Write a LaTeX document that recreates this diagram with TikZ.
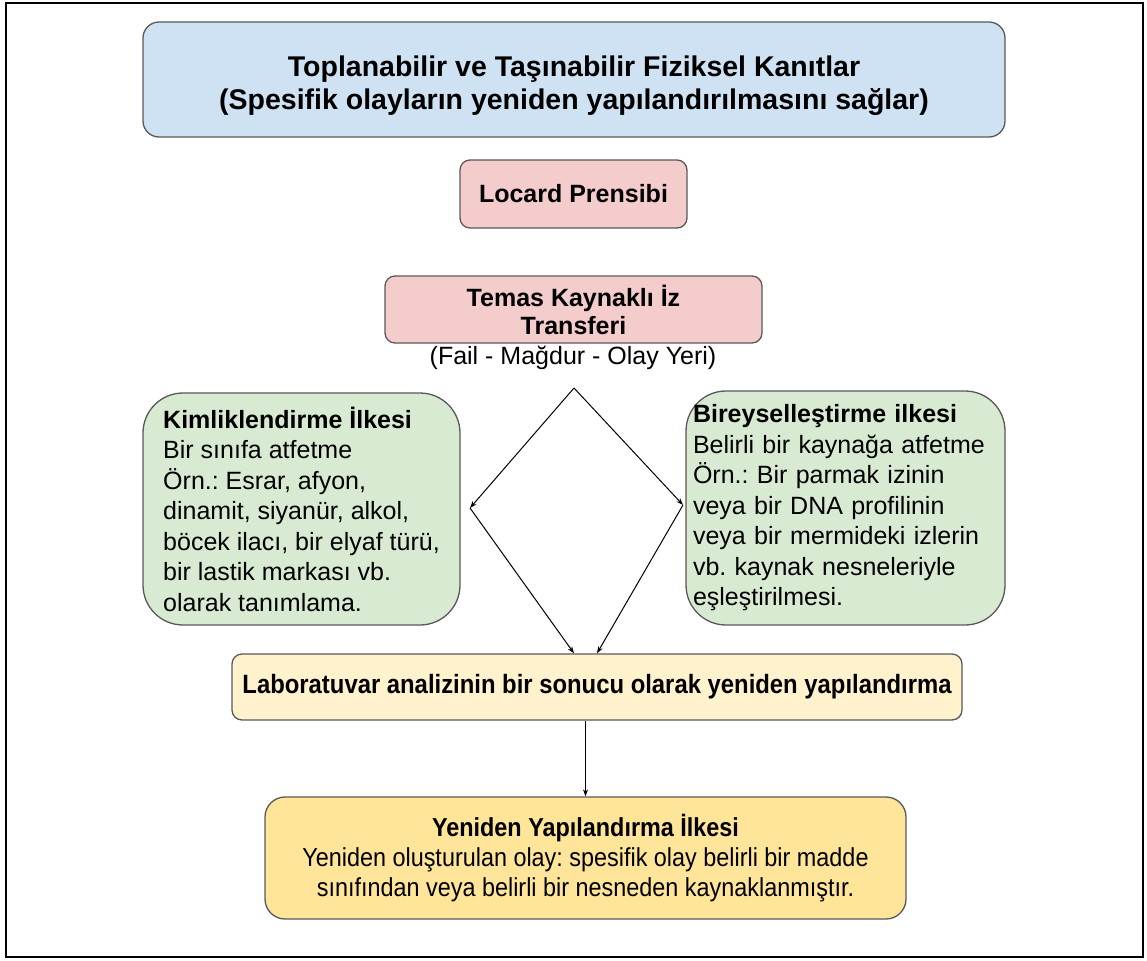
\documentclass[tikz,border=0pt]{standalone}
\usepackage{fontspec}
\setmainfont{Liberation Sans}
\newfontfamily\darfont[FakeStretch=0.9]{Liberation Sans}
\usetikzlibrary{arrows.meta}
\frenchspacing

\definecolor{kenar}{HTML}{595959}
\definecolor{mavi}{HTML}{CFE2F3}
\definecolor{pembe}{HTML}{F4CCCC}
\definecolor{yesil}{HTML}{D9EAD3}
\definecolor{krem}{HTML}{FFF2CC}
\definecolor{sari}{HTML}{FFE599}

\begin{document}
\begin{tikzpicture}[x=1pt,y=-1pt,
    kutu/.style={draw=kenar,line width=1.3pt,rounded corners=10pt,align=center,inner sep=0pt},
    ilke/.style={kutu,fill=yesil,rounded corners=40pt,align=left,minimum height=232pt,
        font=\fontsize{25}{30.5}\selectfont},
    ok/.style={-{Stealth[length=7pt,width=5pt]},line width=1pt}]
    % 边界
    \useasboundingbox (0,0) rectangle (1147,960);
    \draw[line width=2.5pt] (6,3) rectangle (1143,957);

    % 标题框
    \node [kutu,fill=mavi,rounded corners=16pt,minimum width=862pt,minimum height=115pt,
        font=\fontsize{28.5}{33}\selectfont\bfseries] (kanit) at (574,79.5)
        {\rule{0pt}{34pt}Toplanabilir ve Taşınabilir Fiziksel Kanıtlar\\(Spesifik olayların yeniden yapılandırılmasını sağlar)};

    % 罗卡定律
    \node [kutu,fill=pembe,minimum width=227pt,minimum height=68pt,
        font=\fontsize{25}{29}\selectfont\bfseries] (locard) at (573.5,194) {Locard Prensibi};

    % 接触转移
    \node [kutu,fill=pembe,minimum width=377pt,minimum height=67pt,
        font=\fontsize{25}{28}\selectfont\bfseries] (temas) at (573.5,309.5) {Temas Kaynaklı İz\\Transferi};
    \node [font=\fontsize{25}{29}\selectfont,inner sep=0pt] (fail) at (573,358) {(Fail - Mağdur - Olay Yeri)};

    % 两个原则
    \node [ilke,minimum width=317pt] (kimlik) at (301.5,509)
        {\textbf{Kimliklendirme İlkesi}\\Bir sınıfa atfetme\\Örn.: Esrar, afyon,\\dinamit, siyanür, alkol,\\böcek ilacı, bir elyaf türü,\\bir lastik markası vb.\\olarak tanımlama.};
    \node [ilke,inner xsep=7pt,text width=305pt,minimum height=234pt] (birey) at (845.5,508)
        {\textbf{Bireyselleştirme ilkesi}\\Belirli bir kaynağa atfetme\\Örn.: Bir parmak izinin\\veya bir DNA profilinin\\veya bir mermideki izlerin\\vb. kaynak nesneleriyle\\eşleştirilmesi.};

    % 菱形的顶点
    \coordinate (tepe) at (574,388);
    \coordinate (sol) at (470,508);
    \coordinate (sag) at (683,505);

    % 实验室分析
    \node [kutu,fill=krem,minimum width=730pt,minimum height=66pt,
        font=\darfont\fontsize{26.5}{30}\selectfont\bfseries] (lab) at (597,687)
        {Laboratuvar analizinin bir sonucu olarak yeniden yapılandırma};

    % 重建原则
    \node [kutu,fill=sari,rounded corners=20pt,minimum width=641pt,minimum height=122pt,
        font=\darfont\fontsize{26}{30}\selectfont] (yeniden) at (585.5,858)
        {\textbf{Yeniden Yapılandırma İlkesi}\\Yeniden oluşturulan olay: spesifik olay belirli bir madde\\sınıfından veya belirli bir nesneden kaynaklanmıştır.};

    % 箭头
    \draw[ok] (tepe) -- (sol);
    \draw[ok] (tepe) -- (sag);
    \draw[ok] (sol) -- (lab.north -| tepe);
    \draw[ok] (sag) -- (lab.north);
    \draw[ok] (lab.south -| yeniden.north) -- (yeniden.north);
\end{tikzpicture}
\end{document}
